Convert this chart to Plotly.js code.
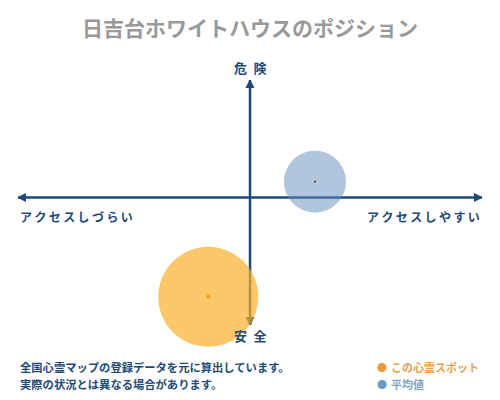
<!DOCTYPE html>
<html><head><meta charset="utf-8">
<script src="https://cdn.plot.ly/plotly-3.0.1.min.js"></script>
<style>html,body{margin:0;padding:0;background:#fff}</style>
</head><body><div id="chart" style="width:500px;height:400px"></div>
<script>
// Data (access: x, danger: y)
const seriesNames = ["この心霊スポット", "平均値"];
const accessValues = [-1.8, 2.8];
const dangerValues = [-8.1, 1.3];
const axisLabels = {top: "危\u2002険", bottom: "安\u2002全", left: "アクセスしづらい", right: "アクセスしやすい"};
const titleText = "日吉台ホワイトハウスのポジション";
const noteLines = ["全国心霊マップの登録データを元に算出しています。", "実際の状況とは異なる場合があります。"];

// Styles
const circleSizes = [100, 62];
const circleColors = ["rgba(250,175,40,0.7)", "rgba(100,140,185,0.5)"];
const dotColors = ["#f0a020", "#333333"];
const dotSizes = [4, 2];
const navy = "#1e4a78";
const xr = [-10, 10], yr = [-10.4, 9.6];
const spaced = s => s.split("").join("\u2009");

const traces = [0, 1].map(i => ({
  type: "scatter", mode: "markers", x: [accessValues[i]], y: [dangerValues[i]],
  name: seriesNames[i], hoverinfo: "skip", cliponaxis: false,
  marker: {size: circleSizes[i], color: circleColors[i], line: {width: 0}}
})).concat([0, 1].map(i => ({
  type: "scatter", mode: "markers", x: [accessValues[i]], y: [dangerValues[i]],
  hoverinfo: "skip", cliponaxis: false, marker: {size: dotSizes[i], color: dotColors[i]}
})));

const head = (xa, ya, path) => ({type: "path", xref: "x", yref: "y", xsizemode: "pixel", ysizemode: "pixel",
  xanchor: xa, yanchor: ya, path: path, fillcolor: navy, line: {width: 0}, layer: "below"});

const shapes = [
  {type: "line", xref: "x", yref: "y", x0: xr[0], x1: xr[1], y0: 0, y1: 0, line: {color: navy, width: 2.5}, layer: "below"},
  {type: "line", xref: "x", yref: "y", x0: 0, x1: 0, y0: yr[0], y1: yr[1], line: {color: navy, width: 2.5}, layer: "below"},
  head(xr[1], 0, "M1,0 L-8,4.5 L-8,-4.5 Z"),
  head(xr[0], 0, "M-1,0 L8,4.5 L8,-4.5 Z"),
  head(0, yr[1], "M0,1 L-4.5,-8 L4.5,-8 Z"),
  head(0, yr[0], "M0,-1 L-4.5,8 L4.5,8 Z")
];

const F = (size, color, bold) => ({family: "Noto Sans CJK JP", size: size, color: color, weight: bold ? "bold" : "normal"});
const txt = (text, x, y, xanchor, font) => ({text: text, x: x, y: y, xref: "paper", yref: "paper",
  xanchor: xanchor, yanchor: "middle", showarrow: false, font: font});

// paper coords: plot area x 18..482, y 80..325
const px = v => (v - 18) / 464, py = v => (325 - v) / 245;

const annotations = [
  txt(axisLabels.top, px(250), py(67), "center", F(13, navy, true)),
  txt(axisLabels.bottom, px(250), py(335), "center", F(13, navy, true)),
  txt(spaced(axisLabels.left), px(18), py(216), "left", F(12, navy, true)),
  txt(spaced(axisLabels.right), px(482), py(216), "right", F(12, navy, true)),
  txt(noteLines[0], px(18), py(367), "left", F(11.3, navy, true)),
  txt(noteLines[1], px(18), py(384), "left", F(11.3, navy, true)),
  txt("●", px(382), py(367), "center", F(10, "#ec9a3a", false)),
  txt("●", px(382), py(384), "center", F(10, "#6d9ac4", false)),
  txt(seriesNames[0], px(389), py(367), "left", F(11, "#e8a050", true)),
  txt(seriesNames[1], px(389), py(384), "left", F(11, "#7fa3c6", true))
];

const layout = {
  width: 500, height: 400, margin: {l: 18, r: 18, t: 80, b: 75},
  paper_bgcolor: "#fff", plot_bgcolor: "rgba(0,0,0,0)", showlegend: false,
  title: {text: titleText, x: 0.5, xanchor: "center", y: 1 - 29 / 400, yanchor: "middle",
    font: F(21, "#999999", true)},
  xaxis: {range: xr, visible: false, fixedrange: true},
  yaxis: {range: yr, visible: false, fixedrange: true},
  shapes: shapes, annotations: annotations
};

Plotly.newPlot("chart", traces, layout, {staticPlot: true, displayModeBar: false});
</script></body></html>
